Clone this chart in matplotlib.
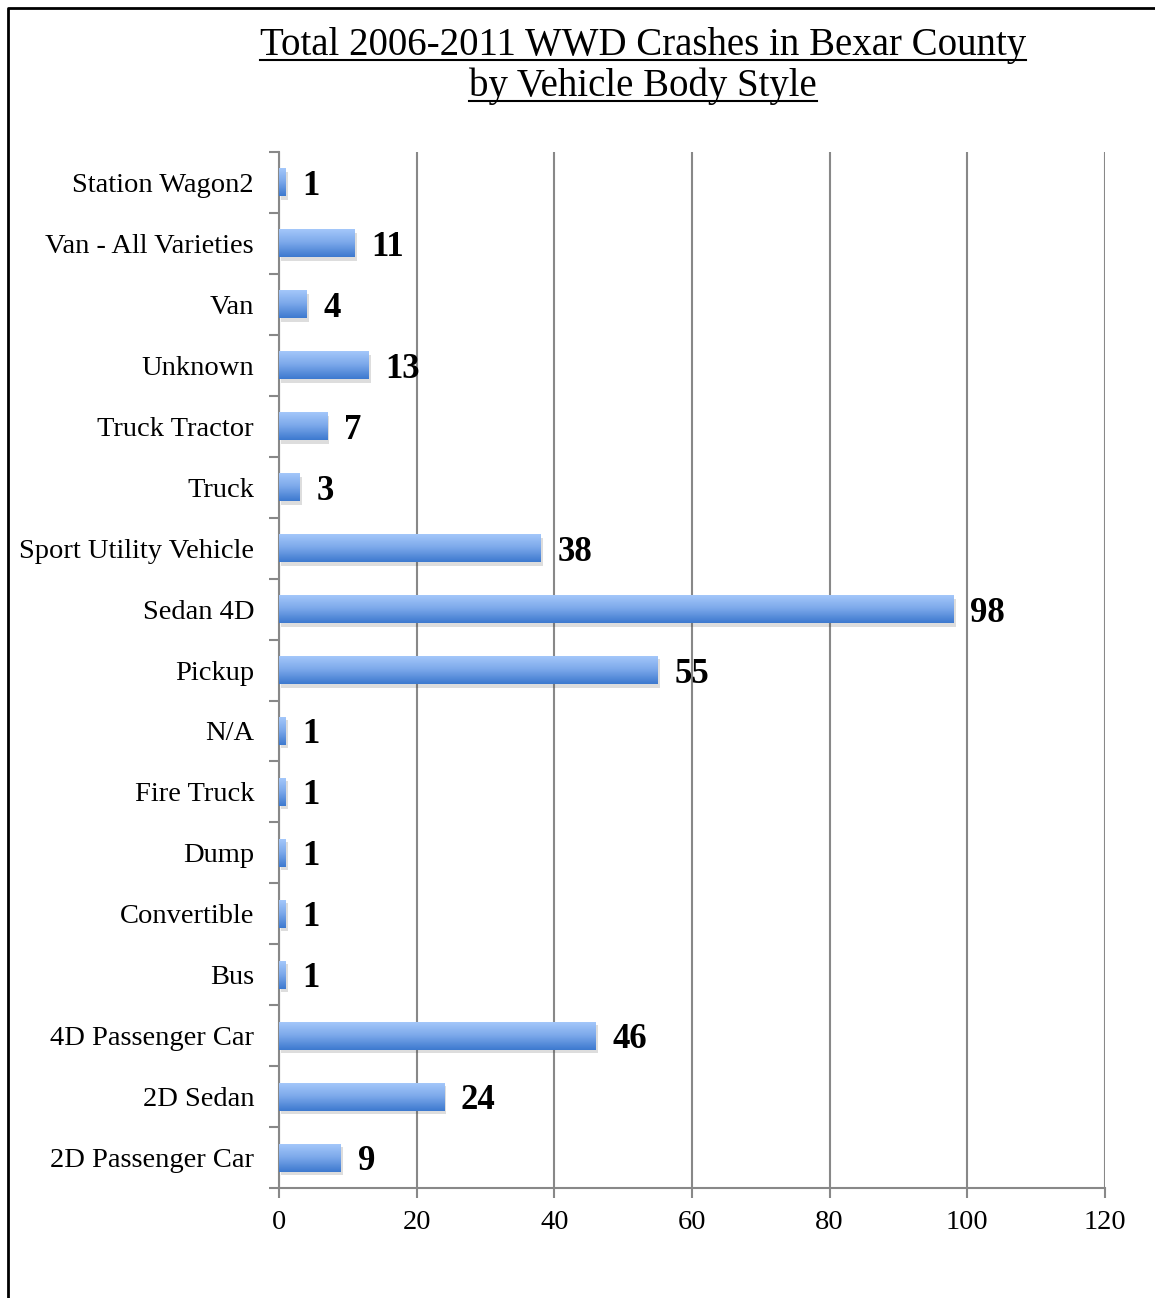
import numpy as np
import matplotlib
matplotlib.use("Agg")
import matplotlib.pyplot as plt
import matplotlib.patheffects as pe
from matplotlib.colors import LinearSegmentedColormap
from matplotlib.lines import Line2D

plt.rcParams['font.family'] = ['Liberation Serif', 'DejaVu Serif']

# body styles, bottom to top
categories = ["2D Passenger Car", "2D Sedan", "4D Passenger Car", "Bus", "Convertible",
              "Dump", "Fire Truck", "N/A", "Pickup", "Sedan 4D", "Sport Utility Vehicle",
              "Truck", "Truck Tractor", "Unknown", "Van", "Van - All Varieties", "Station Wagon2"]
crashes = [9, 24, 46, 1, 1, 1, 1, 1, 55, 98, 38, 3, 7, 13, 4, 11, 1]
x_ticks = [0, 20, 40, 60, 80, 100, 120]

fig = plt.figure(figsize=(11.55, 12.98), dpi=100)
ax = fig.add_axes([0.2416, 0.0847, 0.7151, 0.7982])

y = np.arange(len(categories))
grad = LinearSegmentedColormap.from_list("barblue", ["#a6c9fb", "#7ba8ea", "#3d79cf"])
shade = np.linspace(0, 1, 64).reshape(-1, 1)

bars = ax.barh(y, crashes, height=0.46, color="#6f9fe3", zorder=3,
               path_effects=[pe.SimplePatchShadow(offset=(1.5, -2.5), alpha=0.18, shadow_rgbFace="#444444"),
                             pe.Normal()])
for b in bars:
    x0, y0, w, h = b.get_x(), b.get_y(), b.get_width(), b.get_height()
    im = ax.imshow(shade, cmap=grad, aspect="auto", origin="upper",
                   extent=(x0, x0 + w, y0, y0 + h), zorder=4, interpolation="bilinear")
    im.set_clip_path(b)

for yi, v in zip(y, crashes):
    ax.annotate(str(v), xy=(v, yi), xytext=(12, 0), textcoords="offset points",
                ha="left", va="center_baseline", fontsize=25, fontweight="bold", zorder=5)

ax.set_xlim(0, 120)
ax.set_ylim(-0.5, len(categories) - 0.5)
ax.set_xticks(x_ticks)
ax.set_yticks(y)
ax.set_yticklabels(categories)
ax.set_yticks(np.arange(-0.5, len(categories)), minor=True)
ax.tick_params(axis="y", which="major", length=0, pad=18, labelsize=20.5)
ax.tick_params(axis="y", which="minor", length=7, width=1.5, color="#888888", direction="out")
ax.tick_params(axis="x", which="major", length=7, width=1.5, color="#888888", pad=9, labelsize=20.5)

ax.grid(axis="x", color="#888888", linewidth=1.5, zorder=0)
ax.set_axisbelow(True)
for s in ["top", "right"]:
    ax.spines[s].set_visible(False)
for s in ["left", "bottom"]:
    ax.spines[s].set_color("#888888")
    ax.spines[s].set_linewidth(1.5)

# title with underline
fig.canvas.draw()
renderer = fig.canvas.get_renderer()
for txt, ypos in [("Total 2006-2011 WWD Crashes in Bexar County", 1 - 55 / 1298),
                  ("by Vehicle Body Style", 1 - 96 / 1298)]:
    t = fig.text(0.557, ypos, txt, ha="center", va="baseline", fontsize=28)
    bb = t.get_window_extent(renderer).transformed(fig.transFigure.inverted())
    fig.add_artist(Line2D([bb.x0, bb.x1], [ypos - 0.0035, ypos - 0.0035],
                          transform=fig.transFigure, color="black", linewidth=1.5))

# outer frame (left and top edges)
fig.add_artist(Line2D([8 / 1155, 8 / 1155, 1], [0, 1 - 8 / 1298, 1 - 8 / 1298],
                      transform=fig.transFigure, color="black", linewidth=2))

fig.savefig("out.png", dpi=100)
